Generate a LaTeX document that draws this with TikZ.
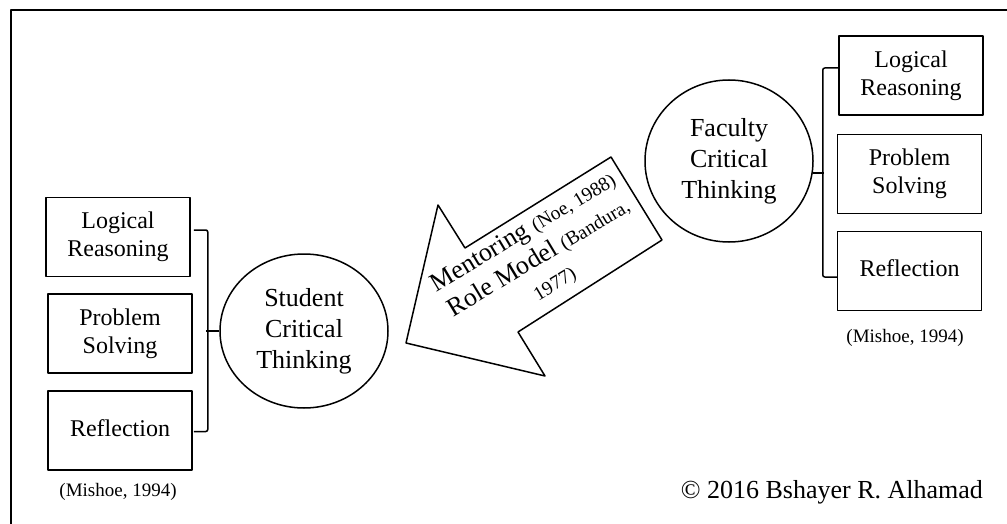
\documentclass[tikz,border=0pt]{standalone}
\usepackage{fontspec}
\setmainfont{Liberation Serif}
\usetikzlibrary{shapes,calc,positioning}
\newcommand\refnote[1]{{\fontsize{19.5}{30}\selectfont #1}}
\tikzset{
    factor/.style ={rectangle, draw, minimum width=144pt, minimum height=79pt, inner sep=0pt, align=center, font=\fontsize{24}{28}\selectfont},
    thinker/.style ={ellipse, draw, minimum width=168pt, minimum height=154pt, inner sep=0pt, align=center, font=\fontsize{26}{31}\selectfont},
    cite/.style = {font=\fontsize{19}{22}\selectfont},
    bracket/.style = {rounded corners=2pt}
}

\begin{document}
\begin{tikzpicture}[x=1pt, y=-1pt, line width=1.5pt, line join=round]
      \useasboundingbox (0,0) rectangle (1007,524);
      \draw (11,524) |- (1007,10);

      % student side
      \node[factor] (slogic) at (118, 237) {Logical\\Reasoning};
      \node[factor] (sproblem) at (120, 333.5) {Problem\\Solving};
      \node[factor, text height=20pt, text depth=9pt] (sreflect) at (120, 430.5) {Reflection};
      \node[cite] (scite) at (118, 492) {(Mishoe, 1994)};
      \node[thinker] (student) at (304, 331) {Student\\Critical\\Thinking};

      \draw[bracket] ([xshift=3pt,yshift=7pt]slogic.east) -| ([xshift=15pt,yshift=-1pt]sreflect.east) -- ([xshift=1pt,yshift=-1pt]sreflect.east);
      \draw (student.west) -- ++(-13,0);

      % faculty side
      \node[factor] (flogic) at (911, 75.5) {Logical\\Reasoning};
      \node[factor] (fproblem) at (909.5, 174) {Problem\\Solving};
      \node[factor, text height=20pt, text depth=9pt] (freflect) at (909.5, 271) {Reflection};
      \node[cite] (fcite) at (905, 338) {(Mishoe, 1994)};
      \node[thinker, minimum height=162pt] (faculty) at (729, 161) {Faculty\\Critical\\Thinking};

      \draw[bracket] ([yshift=7.5pt]flogic.west) -| ([xshift=-14pt,yshift=-6pt]freflect.west) -- ([yshift=-6pt]freflect.west);
      \draw (faculty.-8) -- ++(11,0);

      % big arrow
      \draw (406,343) -- (438,205) -- (465,248) -- (611,157) -- (662,240) -- (518,332) -- (545,376) -- cycle;
      \node[rotate=31, align=center, font=\fontsize{26}{30}\selectfont] (links) at (539, 258)
          {Mentoring \refnote{(Noe, 1988)}\\Role Model \refnote{(Bandura,}\\\refnote{1977)}};

      \node[anchor=base east, font=\fontsize{26}{30}\selectfont] (copyright) at (987, 498) {© 2016 Bshayer R. Alhamad};
\end{tikzpicture}
\end{document}
